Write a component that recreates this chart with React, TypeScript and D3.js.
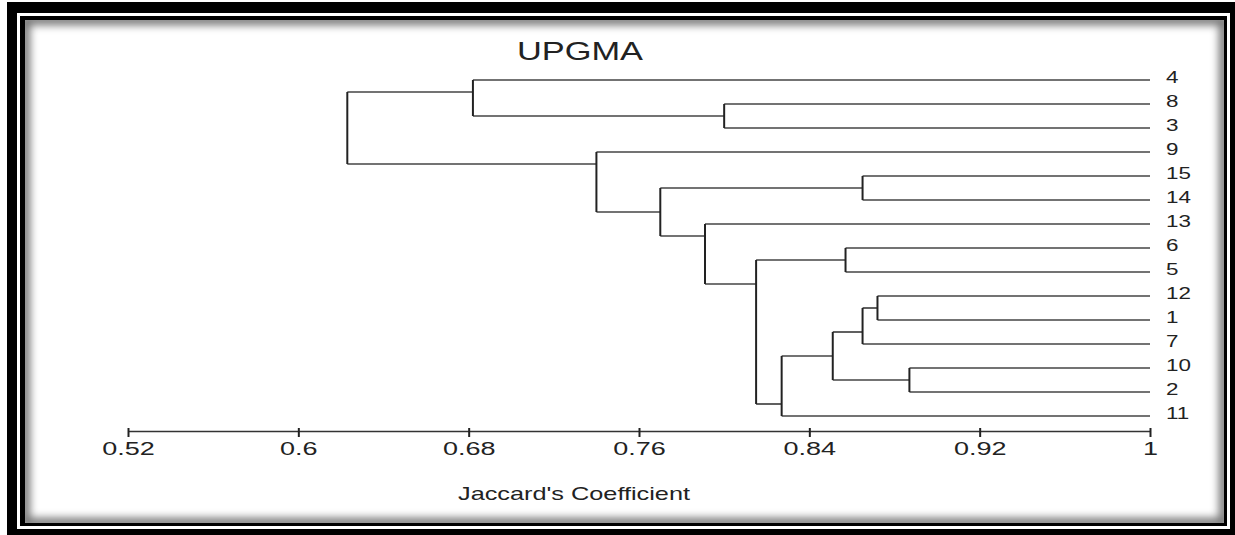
import { useEffect, useRef } from 'react';
import * as d3 from 'd3';

const WIDTH = 1235;
const HEIGHT = 535;
const FONT = "'Liberation Sans', Arial, sans-serif";

// leaf order top to bottom
const leafOrder = ['4', '8', '3', '9', '15', '14', '13', '6', '5', '12', '1', '7', '10', '2', '11'];

// [node id, upper child, lower child, Jaccard coefficient at merge]
const merges: [string, string, string, number][] = [
    ['n1', '8', '3', 0.8],
    ['n2', '15', '14', 0.865],
    ['n3', '6', '5', 0.857],
    ['n4', '12', '1', 0.872],
    ['n5', '10', '2', 0.887],
    ['n6', 'n4', '7', 0.865],
    ['n7', 'n6', 'n5', 0.851],
    ['n8', 'n7', '11', 0.827],
    ['n9', 'n3', 'n8', 0.815],
    ['n10', '13', 'n9', 0.791],
    ['n11', 'n2', 'n10', 0.77],
    ['n12', '9', 'n11', 0.74],
    ['n13', '4', 'n1', 0.682],
    ['n14', 'n13', 'n12', 0.623],
];

const tickValues = [0.52, 0.6, 0.68, 0.76, 0.84, 0.92, 1];
const title = 'UPGMA';
const axisLabel = "Jaccard's Coefficient";

type TreeNode = { name: string; value: number; children?: TreeNode[] };

const buildTree = (): TreeNode => {
    const lookup = new Map<string, TreeNode>();
    leafOrder.forEach((l) => lookup.set(l, { name: l, value: 1 }));
    merges.forEach(([id, a, b, v]) => {
        lookup.set(id, { name: id, value: v, children: [lookup.get(a)!, lookup.get(b)!] });
    });
    return lookup.get(merges[merges.length - 1][0])!;
};

const Dendrogram = () => {
    const axisRef = useRef<SVGGElement>(null);

    const xScale = d3.scaleLinear().domain([0.52, 1]).range([128, 1150]);
    const yScale = d3.scalePoint<string>().domain(leafOrder).range([80, 416]);
    const axisY = 431;

    const root = d3.hierarchy(buildTree());

    // a node joins its parent at the gap between its two children's leaves
    const joinY = (node: d3.HierarchyNode<TreeNode>): number => {
        if (!node.children) return yScale(node.data.name)!;
        const upper = node.children[0].leaves();
        const lower = node.children[1].leaves();
        return (yScale(upper[upper.length - 1].data.name)! + yScale(lower[0].data.name)!) / 2;
    };

    const verticals = root.descendants().filter((d) => d.children).map((d, i) => (
        <line
            key={'v' + i}
            x1={xScale(d.data.value)}
            x2={xScale(d.data.value)}
            y1={joinY(d.children![0])}
            y2={joinY(d.children![1])}
            stroke="#222"
            strokeWidth={2}
        />
    ));

    const horizontals = root.descendants().filter((d) => d.parent).map((d, i) => (
        <line
            key={'h' + i}
            x1={xScale(d.parent!.data.value)}
            x2={xScale(d.data.value)}
            y1={joinY(d)}
            y2={joinY(d)}
            stroke="#444"
            strokeWidth={1.7}
        />
    ));

    const labels = root.leaves().map((d, i) => (
        <text
            key={'l' + i}
            transform={`translate(${xScale(1) + 16},${yScale(d.data.name)! + 3}) scale(1.4,1)`}
            fontSize={16}
            fontFamily={FONT}
            fill="#222"
        >
            {d.data.name}
        </text>
    ));

    useEffect(() => {
        const g = d3.select(axisRef.current);
        g.selectAll('*').remove();
        g.call(
            d3.axisBottom(xScale)
                .tickValues(tickValues)
                .tickSize(6)
                .tickSizeOuter(0)
                .tickFormat((d) => d3.format('')(d as number))
        );
        g.select('.domain').attr('stroke', '#333').attr('stroke-width', 1.5);
        g.selectAll('.tick line').attr('stroke', '#222').attr('stroke-width', 2).attr('y1', -3);
        g.selectAll('.tick text')
            .attr('y', 24)
            .attr('dy', 0)
            .attr('fill', '#222')
            .attr('font-size', 18)
            .attr('font-family', FONT)
            .attr('transform', 'scale(1.5,1)');
    }, []);

    return (
        <svg
            width={WIDTH}
            height={HEIGHT}
            style={{ position: 'absolute', left: 0, top: 0, background: '#fff' }}
        >
            <defs>
                <clipPath id="inner">
                    <rect x={25} y={20} width={1199} height={503} />
                </clipPath>
                <filter id="soft" x="-5%" y="-5%" width="110%" height="110%">
                    <feGaussianBlur stdDeviation={4} />
                </filter>
            </defs>

            {/* double frame with inner shadow */}
            <rect x={7} y={2} width={WIDTH - 7} height={HEIGHT - 2} fill="#000" />
            <rect x={17} y={13} width={1213} height={516} fill="#fff" />
            <rect x={20} y={16} width={1207} height={510} fill="#000" />
            <rect x={25} y={20} width={1199} height={503} fill="#fff" />
            <g clipPath="url(#inner)">
                <rect
                    x={25}
                    y={20}
                    width={1199}
                    height={503}
                    fill="none"
                    stroke="#000"
                    strokeWidth={10}
                    opacity={0.55}
                    filter="url(#soft)"
                />
            </g>

            <text
                x={580}
                y={60}
                textAnchor="middle"
                fontSize={25}
                fontFamily={FONT}
                fill="#222"
                textLength={126}
                lengthAdjust="spacingAndGlyphs"
            >
                {title}
            </text>

            {horizontals}
            {verticals}
            {labels}

            <g ref={axisRef} transform={`translate(0,${axisY})`} />

            <text
                x={458}
                y={500}
                fontSize={19}
                fontFamily={FONT}
                fill="#222"
                textLength={232}
                lengthAdjust="spacingAndGlyphs"
            >
                {axisLabel}
            </text>
        </svg>
    );
};

export default function App() {
    return <Dendrogram />;
}
